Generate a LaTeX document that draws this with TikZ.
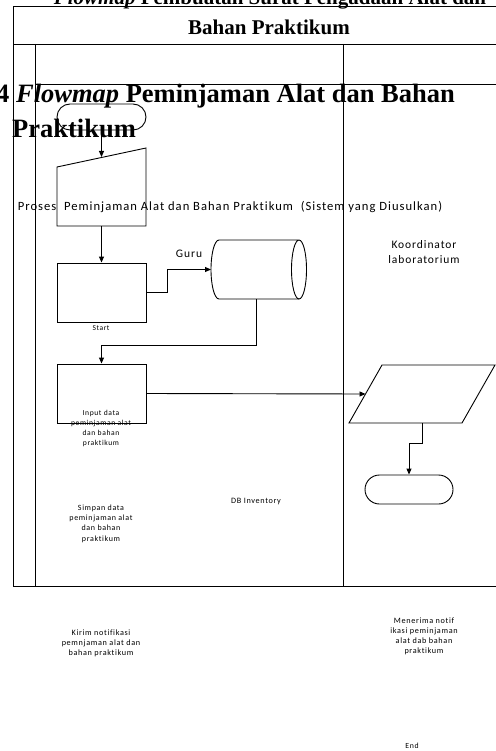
\documentclass[tikz,border=0pt]{standalone}
\usepackage{fontspec}
\setmainfont{Liberation Serif}
\newfontfamily\lbl[LetterSpace=8,Ligatures={NoCommon,NoContextual}]{Carlito}
\usetikzlibrary{arrows.meta,calc,shapes.misc}
\tikzset{
  x=1pt, y=-1pt,
  line/.style={draw=black, line width=0.9pt},
  flow/.style={line, -{Triangle[length=6pt,width=5pt]}},
  slot/.style={draw=none, inner sep=0pt, outer sep=0pt},
  boxed/.style={line, rectangle, inner sep=0pt, minimum width=89pt},
  term/.style={line, rounded rectangle, inner sep=0pt},
  txt/.style={inner sep=0pt, align=center, font=\lbl},
}
\begin{document}
\begin{tikzpicture}
\useasboundingbox (0,0) rectangle (495,751);

% swimlane frame
\draw[line] (13,586) -- (13,6) -- (500,6);
\draw[line] (13,44) -- (500,44);
\draw[line] (35,44) -- (35,586);
\draw[line] (35,84) -- (500,84);
\draw[line] (343,44) -- (343,586);
\draw[line] (13,586) -- (500,586);

% headings
\node[anchor=base, inner sep=0pt, font=\fontsize{21}{25}\selectfont\bfseries] (cap0) at (270,5) {\textit{Flowmap} Pembuatan Surat Pengadaan Alat dan};
\node[anchor=base, inner sep=0pt, font=\fontsize{21}{25}\selectfont\bfseries] (cap1) at (269,35) {Bahan Praktikum};
\node[anchor=base west, inner sep=0pt, font=\fontsize{26.5}{30}\selectfont\bfseries] (ttl1) at (-4,103) {4 \textit{Flowmap} Peminjaman Alat dan Bahan};
\node[anchor=base west, inner sep=0pt, font=\fontsize{26.5}{30}\selectfont\bfseries] (ttl2) at (12,138) {Praktikum};

% shapes
\node[term, minimum width=89pt, minimum height=26pt] (start) at (101.5,117) {};
\node[slot, minimum width=89pt, minimum height=78pt] (inp) at (101.5,187) {};
\draw[line] (inp.south west) -- (inp.south east) -- (inp.north east) -- ([yshift=-19pt]inp.north west) -- cycle;
\node[boxed, minimum height=59pt] (r1) at (101.5,292.5) {};
\node[slot, minimum width=96pt, minimum height=59pt] (cyl) at (259,269.5) {};
\draw[line] ([xshift=8pt]cyl.north west) -- ([xshift=-8pt]cyl.north east)
  arc[start angle=90, end angle=-270, x radius=7.5pt, y radius=29.5pt];
\draw[line] ([xshift=8pt]cyl.north west) arc[start angle=90, end angle=270, x radius=8pt, y radius=29.5pt]
  -- ([xshift=-8pt]cyl.south east);
\node[boxed, minimum height=59pt] (r2) at (101.5,393.5) {};
\node[slot, minimum width=146pt, minimum height=58pt] (par) at (422,394) {};
\draw[line] ([xshift=33pt]par.north west) -- (par.north east) -- ([xshift=-33pt]par.south east) -- (par.south west) -- cycle;
\node[term, minimum width=88pt, minimum height=29pt] (endt) at (409,489.5) {};

% connectors
\draw[flow] (start.south) -- ([yshift=-9pt]inp.north);
\draw[flow] (inp.south) -- (r1.north);
\draw[flow] (r1.east) -- ++(21,0) |- (cyl.west);
\draw[flow] ([xshift=-3pt]cyl.south) -- ++(0,46) -| (r2.north);
\draw[flow] (r2.east) -- ([xshift=16.5pt]par.west);
\draw[flow] (par.south) -- ++(0,20) -| (endt.north);

% labels
\node[txt, font=\lbl\fontsize{12.6}{14}\selectfont] (lane) at (230,207) {Proses\ \ Peminjaman Alat dan Bahan Praktikum\ \ (Sistem yang Diusulkan)};
\node[txt, font=\lbl\fontsize{11.5}{15}\selectfont] (koor) at (424,252) {Koordinator\\laboratorium};
\node[txt, font=\lbl\fontsize{11.5}{14}\selectfont] (guru) at (189,254) {Guru};
\node[txt, font=\lbl\fontsize{7.5}{8}\selectfont] (lstart) at (101,328) {Start};
\node[txt, font=\lbl\fontsize{7.6}{10.3}\selectfont] (linp) at (101,428.5) {Input data\\peminjaman alat\\dan bahan\\praktikum};
\node[txt, font=\lbl\fontsize{8.2}{10}\selectfont] (ldb) at (256,502) {DB Inventory};
\node[txt, font=\lbl\fontsize{8}{10.3}\selectfont] (lsimp) at (101,523.5) {Simpan data\\peminjaman alat\\dan bahan\\praktikum};
\node[txt, font=\lbl\fontsize{8.2}{10}\selectfont] (lkirim) at (101,643) {Kirim notifikasi\\pemnjaman alat dan\\bahan praktikum};
\node[txt, font=\lbl\fontsize{8.2}{10}\selectfont] (lterima) at (424,636) {Menerima notif\\ikasi peminjaman\\alat dab bahan\\praktikum};
\node[txt, font=\lbl\fontsize{7.8}{10}\selectfont] (lend) at (412,746) {End};
\end{tikzpicture}
\end{document}
